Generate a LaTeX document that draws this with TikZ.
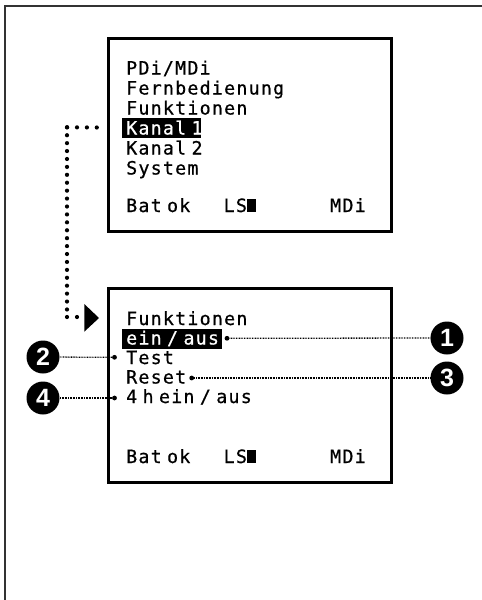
\documentclass[tikz,border=0pt]{standalone}
\usepackage{fontspec}
\newfontfamily\lcdfont[LetterSpace=6.7,WordSpace=0.44,FakeBold=0.7]{DejaVu Sans Mono}
\newfontfamily\numfont{Liberation Sans}
\begin{document}
\begin{tikzpicture}[x=1pt,y=-1pt,
  lcd/.style={anchor=base west,inner sep=0pt,font=\lcdfont\fontsize{18.3}{20}\selectfont},
  lcdinv/.style={lcd,text=white},
  screen/.style={draw,line width=3pt,inner sep=0pt},
  hlbox/.style={fill=black,inner sep=0pt,minimum height=20},
  cursor/.style={fill=black,inner sep=0pt,minimum width=8.2,minimum height=13},
  bigdots/.style={line width=4.2pt,line cap=round},
  leader/.style={line width=1.3pt,dash pattern=on 0.8pt off 0.8pt},
  enddot/.style={circle,fill=black,inner sep=0pt,minimum size=4.8},
  callout/.style={circle,fill=black,inner sep=0pt,minimum size=33,text=white,
    font=\numfont\bfseries\fontsize{25}{25}\selectfont}]
\useasboundingbox (0,0) rectangle (482,600);
% outer frame
\draw[line width=2pt,black!80] (482,6) -- (5,6) -- (5,600);
% screens
\node[screen,minimum width=282.5,minimum height=193.4] (topscr) at (250.2,135) {};
\node[screen,minimum width=282.5,minimum height=194] (botscr) at (250.2,385.3) {};
% top screen content
\node[hlbox,minimum width=79] (hlK) at (161.5,127.5) {};
\node[lcd] (t1) at (126,74.5) {PDi/MDi};
\node[lcd] (t2) at (126,94.5) {Fernbedienung};
\node[lcd] (t3) at (126,114.5) {Funktionen};
\node[lcdinv] (t4) at (126,134.5) {Kanal 1};
\node[lcd] (t5) at (126,154.5) {Kanal 2};
\node[lcd] (t6) at (126,174.5) {System};
\node[lcd] (t7) at (126,212) {Bat ok};
\node[lcd] (t8) at (223.5,212) {LS};
\node[cursor] (cur1) at (251.4,205.5) {};
\node[lcd] (t9) at (330,212) {MDi};
% bottom screen content
\node[hlbox,minimum width=100] (hlE) at (171.5,339.3) {};
\node[lcd] (b1) at (126,325) {Funktionen};
\node[lcdinv] (b2) at (126,344.5) {ein / aus};
\node[lcd] (b3) at (126,364) {Test};
\node[lcd] (b4) at (126,383.5) {Reset};
\node[lcd] (b5) at (126,403) {4 h ein / aus};
\node[lcd] (b6) at (126,463) {Bat ok};
\node[lcd] (b7) at (223.5,463) {LS};
\node[cursor] (cur2) at (251.4,456.5) {};
\node[lcd] (b8) at (330,463) {MDi};
% dotted connector with arrow
\coordinate (a0) at ([xshift=-25pt]hlK.west);
\coordinate (a1) at (67,127.3);
\coordinate (a2) at (67,317);
\coordinate (a3) at (77.3,317);
\draw[bigdots,dash pattern=on 0pt off 9.9pt] (a0) -- (a1);
\draw[bigdots,dash pattern=on 0pt off 7.92pt] (a1) -- (a2);
\draw[bigdots,dash pattern=on 0pt off 10pt] (a2) -- (a3);
\coordinate (tipA) at (84.3,304);
\coordinate (tipB) at (99,318);
\coordinate (tipC) at (84.3,331.7);
\fill (tipA) -- (tipB) -- (tipC) -- cycle;
% callouts
\node[callout] (c1) at (447,338) {1};
\node[callout] (c2) at (43,357) {2};
\node[callout] (c3) at (447,378) {3};
\node[callout] (c4) at (43,398) {4};
\node[enddot] (d1) at (227,338.3) {};
\node[enddot] (d2) at (114.5,357.3) {};
\node[enddot] (d3) at (191.7,378) {};
\node[enddot] (d4) at (114.5,398) {};
\draw[leader] (d1) -- (c1);
\draw[leader] (d2) -- (c2);
\draw[leader] (d3) -- (c3);
\draw[leader] (d4) -- (c4);
\end{tikzpicture}
\end{document}
